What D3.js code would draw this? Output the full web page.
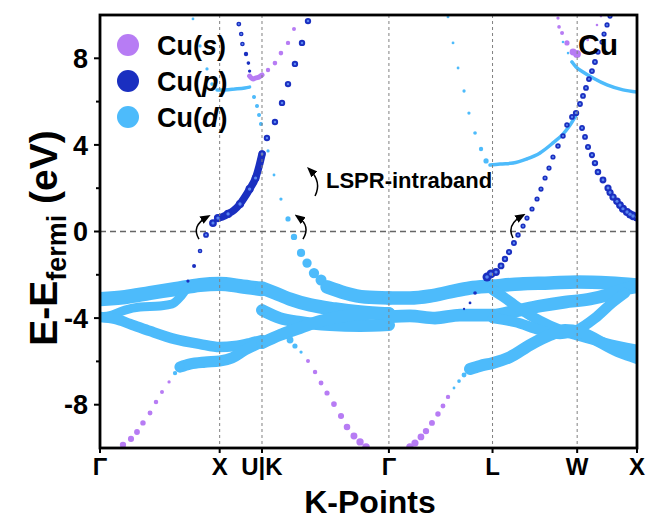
<!DOCTYPE html>
<html>
<head>
<meta charset="utf-8">
<title>Cu band structure</title>
<script src="https://cdnjs.cloudflare.com/ajax/libs/d3/7.8.5/d3.min.js"></script>
<style>
  body { margin: 0; background: #fff; }
  text { font-family: "Liberation Sans", Arial, sans-serif; font-weight: bold; fill: #000; }
</style>
</head>
<body>
<div id="chart"></div>
<script>
var W = 648, H = 520;
var plot = {left: 100, right: 637, top: 15, bottom: 448};

// high symmetry path (k in 2pi/a)
var kLabels = ["Γ", "X", "U|K", "Γ", "L", "W", "X"];
var kTicks = [0, 1.0, 1.3536, 2.4142, 3.2802, 3.9873, 4.4873];
var eTicks = [-8, -4, 0, 4, 8];
var eMinor = [-6, -2, 2, 6];

var orbColor = {s: "#b77cf4", p: "#1a2fc0", d: "#4dbbfb"};

// ---- d-dominated bands (fat ribbons), [k, E] ----
var dTop = [[0,-3.12],[0.209,-3.03],[0.418,-2.84],[0.627,-2.66],[0.836,-2.47],[1.0,-2.42],[1.17,-2.52],[1.354,-2.66]];
var dGX2 = [[0,-3.95],[0.100,-3.86],[0.209,-3.63],[0.334,-3.49],[0.501,-3.44],[0.602,-3.35],[0.669,-3.03],[0.719,-2.66]];
var dGX3 = [[0,-3.95],[0.125,-4.04],[0.251,-4.27],[0.418,-4.60],[0.627,-4.97],[0.836,-5.20],[1.0,-5.34],[1.128,-5.29],[1.253,-5.15],[1.354,-5.01]];
var dGX4 = [[0.669,-6.26],[0.752,-6.12],[0.877,-6.03],[1.0,-5.98],[1.103,-5.84],[1.212,-5.47],[1.354,-5.10]];
var dKG1 = [[1.354,-2.61],[1.462,-2.84],[1.588,-3.12],[1.755,-3.39],[1.964,-3.58],[2.173,-3.72],[2.415,-3.81]];
var dKG2 = [[1.354,-3.63],[1.504,-4.00],[1.671,-4.18],[1.922,-4.32],[2.173,-4.36],[2.415,-4.32]];
var dKG3 = [[1.354,-5.15],[1.504,-4.78],[1.671,-4.46],[1.838,-4.13],[2.047,-3.90],[2.415,-3.77]];
var dKG4 = [[1.897,-2.56],[2.047,-2.84],[2.214,-3.03],[2.415,-3.07]];
var dGLX1 = [[2.415,-3.07],[2.590,-3.07],[2.758,-2.98],[2.925,-2.79],[3.092,-2.61],[3.284,-2.52],[3.510,-2.42],[3.760,-2.38],[3.986,-2.33],[4.262,-2.38],[4.487,-2.47]];
var dGLX2 = [[2.415,-3.95],[2.590,-3.90],[2.799,-4.00],[3.008,-3.86],[3.284,-3.86],[3.468,-3.67],[3.677,-3.44],[3.886,-3.26],[4.095,-3.12],[4.262,-2.89],[4.387,-2.66],[4.487,-2.56]];
var dLX3 = [[3.284,-2.70],[3.384,-3.07],[3.510,-3.58],[3.677,-4.13],[3.844,-4.55],[4.011,-4.83],[4.220,-5.15],[4.487,-5.47]];
var dLX4 = [[3.284,-4.00],[3.468,-4.18],[3.677,-4.55],[3.844,-4.73],[3.986,-4.55],[4.136,-4.00],[4.278,-3.30],[4.387,-2.84]];
var dLX5 = [[3.092,-6.35],[3.175,-6.21],[3.284,-6.07],[3.426,-5.80],[3.593,-5.24],[3.760,-4.78],[3.886,-4.55],[4.011,-4.64],[4.178,-5.10],[4.345,-5.57],[4.487,-5.84]];
var dRibbons = [dTop, dGX2, dGX3, dGX4, dKG1, dKG2, dKG3, dKG4, dGLX1, dGLX2, dLX3, dLX4, dLX5];
var dRibbonWeight = [0.95, 0.6, 0.7, 0.75, 0.9, 0.8, 0.8, 0.9, 0.9, 0.85, 0.7, 0.7, 0.8];

// ---- thin continuous bands, [k, E] ----
var dLineXU = [[0.978,6.54],[1.045,6.54],[1.128,6.58],[1.21,6.63],[1.25,6.67]];
var dLineLW = [[3.259,3.07],[3.343,3.12],[3.451,3.16],[3.568,3.35],[3.677,3.63],[3.785,4.09],[3.869,4.50],[3.928,4.92],[3.978,5.38]];
var dLineWX = [[3.944,7.83],[3.978,7.60],[4.036,7.37],[4.120,7.09],[4.237,6.77],[4.370,6.54],[4.487,6.44]];
var sLineU = [[1.25,7.18],[1.28,7.04],[1.30,7.09],[1.33,7.14],[1.354,7.23]];
var pLineXU = [[0.986,0.62],[1.02,0.67],[1.07,0.81],[1.12,0.99],[1.17,1.27],[1.21,1.59],[1.25,1.96],[1.30,2.47],[1.33,3.03],[1.354,3.58]];

// ---- projected dots, [k, E, weight] ----
var sGX = [[0.192,-9.86,.30],[0.259,-9.58,.28],[0.309,-9.26,.25],[0.359,-8.84,.22],[0.418,-8.38,.18],[0.468,-7.87,.15],[0.518,-7.41,.12],[0.577,-6.95,.08]];
var sKup = [[1.404,7.46,.14],[1.462,7.78,.16],[1.512,8.24,.16],[1.571,8.71,.14],[1.621,9.35,.12]];
var sKG = [[1.738,-5.98,.12],[1.797,-6.49,.15],[1.847,-7.0,.18],[1.897,-7.46,.2],[1.955,-7.97,.24],[2.014,-8.52,.28],[2.064,-9.03,.32],[2.122,-9.45,.36],[2.173,-9.72,.4],[2.223,-9.95,.42]];
var sGL = [[2.590,-9.95,.4],[2.632,-9.77,.38],[2.682,-9.49,.34],[2.724,-9.22,.3],[2.774,-8.84,.26],[2.824,-8.43,.22],[2.866,-8.06,.18],[2.908,-7.64,.14]];
var sLW = [[3.451,3.16,.05],[3.568,3.35,.06],[3.677,3.63,.06]];
var sW = [[3.827,9.86,.08],[3.836,9.45,.1],[3.861,9.17,.12],[3.902,8.71,.2],[3.953,8.29,.35],[3.986,8.20,.45],[4.075,8.85,.06],[4.153,9.54,.05],[4.186,9.95,.05]];

var pGX = [[0.735,-2.29,.08],[0.786,-1.59,.12],[0.836,-0.90,.16],[0.886,-0.16,.25],[0.944,0.39,.45]];
var pXU = [[0.986,0.62,.5],[1.07,0.81,.5],[1.17,1.27,.5],[1.25,1.96,.5],[1.30,2.47,.45],[1.354,3.58,.35]];
var pU = [[1.16,9.58,.18],[1.18,9.12,.16],[1.19,8.66,.16],[1.22,8.20,.14],[1.24,7.78,.1],[1.25,7.41,.08]];
var pUK = [[1.287,6.21,.05],[1.312,5.80,.05],[1.329,5.38,.05],[1.345,4.97,.05]];
var pKup = [[1.395,4.32,.3],[1.462,5.06,.3],[1.521,5.94,.3],[1.571,6.81,.3],[1.629,7.74,.3],[1.688,8.71,.3],[1.738,9.72,.3]];
var pL = [[3.042,-3.58,.04],[3.092,-3.30,.06],[3.134,-2.84,.1],[3.234,-2.10,.6],[3.267,-1.96,.6],[3.309,-1.87,.45],[3.351,-1.59,.35],[3.384,-1.27,.3],[3.418,-0.95,.28],[3.459,-0.53,.26],[3.493,-0.16,.22],[3.535,0.25,.2],[3.568,0.62,.2],[3.610,1.04,.2],[3.652,1.50,.2],[3.685,1.96,.2],[3.719,2.47,.2],[3.752,2.93,.2],[3.785,3.44,.2],[3.827,3.95,.22],[3.869,4.41,.22],[3.902,4.92,.22],[3.944,5.29,.25],[3.978,5.47,.3],[4.011,5.89,.25],[4.036,6.26,.25],[4.061,6.63,.25],[4.086,7.04,.25],[4.111,7.41,.25],[4.136,7.83,.25],[4.161,8.29,.22],[4.195,8.75,.2],[4.212,9.12,.2],[4.237,9.54,.2],[4.262,9.95,.2]];
var pWX = [[4.028,4.78,.25],[4.053,4.37,.25],[4.078,3.90,.27],[4.111,3.53,.28],[4.136,3.16,.3],[4.161,2.75,.32],[4.203,2.38,.35],[4.245,2.01,.38],[4.262,1.80,.38],[4.287,1.59,.4],[4.32,1.40,.42],[4.345,1.22,.45],[4.370,1.05,.48],[4.404,0.90,.5],[4.429,0.80,.52],[4.454,0.72,.55],[4.487,0.67,.6]];

var dGXs = [[0.627,-6.54,.14],[0.677,-6.21,.3]];
var dXtop = [[0.777,9.82,.06],[0.836,8.57,.08],[0.894,7.51,.08],[0.936,6.81,.1]];
var dUK = [[1.287,6.21,.12],[1.312,5.80,.12],[1.329,5.38,.12],[1.345,4.97,.12]];
var dKdown = [[1.404,3.72,.08],[1.454,2.61,.06],[1.512,1.50,.08],[1.571,0.58,.2],[1.621,-0.25,.3],[1.68,-0.99,.5],[1.73,-1.46,.65],[1.788,-1.92,.8],[1.847,-2.24,.9],[1.897,-2.52,.9]];
var dKGs = [[1.588,-5.01,.35],[1.629,-5.29,.2],[1.680,-5.57,.08]];
var dGLs = [[2.958,-7.23,.06],[3.000,-6.91,.1],[3.042,-6.63,.18],[3.092,-6.40,.3]];
var dGL = [[2.908,9.91,.06],[2.950,8.71,.06],[2.992,7.55,.06],[3.042,6.49,.08],[3.083,5.47,.08],[3.134,4.55,.1],[3.184,3.81,.14],[3.226,3.26,.2]];
var dW = [[3.869,8.75,.05],[3.911,8.24,.05],[3.944,7.83,.06]];

var sSeries = [sGX, sKup, sKG, sGL, sLW, sW];
var pSeries = [pGX, pXU, pU, pUK, pKup, pL, pWX];
var dSeries = [dGXs, dXtop, dUK, dKdown, dKGs, dGLs, dGL, dW];

// curved arrows near E_F: [start, control, end] in [k, E]
var arrows = [
  [[0.827,-0.35],[0.760,0.25],[0.894,0.67]],
  [[1.696,-0.35],[1.763,0.25],[1.655,0.67]],
  [[1.797,1.64],[1.855,2.29],[1.755,2.84]],
  [[3.451,-0.30],[3.393,0.30],[3.526,0.72]]
];

var svg = d3.select("#chart").append("svg").attr("width", W).attr("height", H);

var x = d3.scaleLinear().domain([0, kTicks[kTicks.length - 1]]).range([plot.left, plot.right]);
var y = d3.scaleLinear().domain([-10, 10]).range([plot.bottom, plot.top]);
var r = d3.scaleSqrt().domain([0, 1]).range([0, 5.8]);
var ribbonW = d3.scaleLinear().domain([0, 1]).range([0, 15]);
var line = d3.line().x(function(d){ return x(d[0]); }).y(function(d){ return y(d[1]); }).curve(d3.curveMonotoneX);

svg.append("clipPath").attr("id", "clip").append("rect")
  .attr("x", plot.left).attr("y", plot.top)
  .attr("width", plot.right - plot.left).attr("height", plot.bottom - plot.top);

var g = svg.append("g").attr("clip-path", "url(#clip)");

// s layer
g.append("path").datum(sLineU).attr("d", line).attr("fill", "none")
  .attr("stroke", orbColor.s).attr("stroke-width", 5).attr("stroke-linecap", "round");
g.selectAll(".sdot").data(sSeries.flat()).join("circle").attr("class", "sdot")
  .attr("cx", function(d){ return x(d[0]); }).attr("cy", function(d){ return y(d[1]); })
  .attr("r", function(d){ return r(d[2]); }).attr("fill", orbColor.s);

// d ribbons
g.selectAll(".rib").data(dRibbons).join("path").attr("class", "rib")
  .attr("d", line).attr("fill", "none").attr("stroke", orbColor.d)
  .attr("stroke-width", function(d, i){ return ribbonW(dRibbonWeight[i]); })
  .attr("stroke-linecap", "round").attr("stroke-linejoin", "round");
g.selectAll(".dline").data([dLineXU, dLineLW, dLineWX]).join("path").attr("class", "dline")
  .attr("d", line).attr("fill", "none").attr("stroke", orbColor.d)
  .attr("stroke-width", 3.5).attr("stroke-linecap", "round");

// p layer
g.append("path").datum(pLineXU).attr("d", line).attr("fill", "none")
  .attr("stroke", orbColor.p).attr("stroke-width", 7.5).attr("stroke-linecap", "round");
var pPts = pSeries.flat();
g.selectAll(".pdot").data(pPts).join("circle").attr("class", "pdot")
  .attr("cx", function(d){ return x(d[0]); }).attr("cy", function(d){ return y(d[1]); })
  .attr("r", function(d){ return r(d[2]); }).attr("fill", orbColor.p);
g.selectAll(".pcore").data(pPts.filter(function(d){ return d[2] > 0.15; })).join("circle").attr("class", "pcore")
  .attr("cx", function(d){ return x(d[0]); }).attr("cy", function(d){ return y(d[1]); })
  .attr("r", function(d){ return r(d[2]) * 0.4; }).attr("fill", "#5b86ee");

// d dots on top
g.selectAll(".ddot").data(dSeries.flat()).join("circle").attr("class", "ddot")
  .attr("cx", function(d){ return x(d[0]); }).attr("cy", function(d){ return y(d[1]); })
  .attr("r", function(d){ return r(d[2]); }).attr("fill", orbColor.d);

// guides
svg.selectAll(".vgrid").data(kTicks.slice(1, -1)).join("line").attr("class", "vgrid")
  .attr("x1", function(d){ return x(d); }).attr("x2", function(d){ return x(d); })
  .attr("y1", plot.top).attr("y2", plot.bottom)
  .attr("stroke", "#808080").attr("stroke-width", 1).attr("stroke-dasharray", "3,3");
svg.append("line").attr("x1", plot.left).attr("x2", plot.right)
  .attr("y1", y(0)).attr("y2", y(0))
  .attr("stroke", "#666").attr("stroke-width", 1.5).attr("stroke-dasharray", "6,4");

// frame
svg.append("rect").attr("x", plot.left).attr("y", plot.top)
  .attr("width", plot.right - plot.left).attr("height", plot.bottom - plot.top)
  .attr("fill", "none").attr("stroke", "#000").attr("stroke-width", 2.8);

// y axis ticks
svg.selectAll(".ytick").data(eTicks).join("line").attr("class", "ytick")
  .attr("x1", plot.left - 6).attr("x2", plot.left)
  .attr("y1", function(d){ return y(d); }).attr("y2", function(d){ return y(d); })
  .attr("stroke", "#000").attr("stroke-width", 2);
svg.selectAll(".ymin").data(eMinor).join("line").attr("class", "ymin")
  .attr("x1", plot.left - 4).attr("x2", plot.left)
  .attr("y1", function(d){ return y(d); }).attr("y2", function(d){ return y(d); })
  .attr("stroke", "#000").attr("stroke-width", 2);
svg.selectAll(".ylab").data(eTicks).join("text").attr("class", "ylab")
  .attr("x", plot.left - 12).attr("y", function(d){ return y(d); })
  .attr("dy", "0.36em").attr("text-anchor", "end").attr("font-size", 27)
  .text(function(d){ return d; });

// x axis ticks
svg.selectAll(".xtick").data(kTicks).join("line").attr("class", "xtick")
  .attr("x1", function(d){ return x(d); }).attr("x2", function(d){ return x(d); })
  .attr("y1", plot.bottom).attr("y2", plot.bottom + 5)
  .attr("stroke", "#000").attr("stroke-width", 2);
svg.selectAll(".xlab").data(kTicks).join("text").attr("class", "xlab")
  .attr("x", function(d){ return x(d); }).attr("y", 475)
  .attr("text-anchor", "middle").attr("font-size", 24)
  .text(function(d, i){ return kLabels[i]; });

svg.append("text").attr("x", 370).attr("y", 513).attr("text-anchor", "middle")
  .attr("font-size", 32).text("K-Points");

var yl = svg.append("text").attr("transform", "translate(57,238) rotate(-90)")
  .attr("text-anchor", "middle").attr("font-size", 39);
yl.append("tspan").text("E-E");
yl.append("tspan").attr("font-size", 27).attr("dy", 9).text("fermi");
yl.append("tspan").attr("dy", -9).text(" (eV)");

// legend
var legend = [["s", "s"], ["p", "p"], ["d", "d"]];
var lg = svg.selectAll(".leg").data(legend).join("g").attr("class", "leg")
  .attr("transform", function(d, i){ return "translate(128," + (45 + i * 36) + ")"; });
lg.append("circle").attr("r", 11).attr("fill", function(d){ return orbColor[d[0]]; });
var lt = lg.append("text").attr("x", 29).attr("y", 10).attr("font-size", 27);
lt.append("tspan").text("Cu(");
lt.append("tspan").attr("font-style", "italic").text(function(d){ return d[1]; });
lt.append("tspan").text(")");

svg.append("text").attr("x", 578).attr("y", 55).attr("font-size", 30).text("Cu");
svg.append("text").attr("x", 326).attr("y", 188).attr("font-size", 22).text("LSPR-intraband");

// arrows
var defs = svg.append("defs");
defs.append("marker").attr("id", "head").attr("viewBox", "0 0 10 10")
  .attr("refX", 6).attr("refY", 5).attr("markerWidth", 7).attr("markerHeight", 7)
  .attr("orient", "auto").append("path").attr("d", "M0,1 L10,5 L0,9 z").attr("fill", "#000");
svg.selectAll(".arr").data(arrows).join("path").attr("class", "arr")
  .attr("d", function(a){
    return "M" + x(a[0][0]) + "," + y(a[0][1]) + " Q" + x(a[1][0]) + "," + y(a[1][1]) + " " + x(a[2][0]) + "," + y(a[2][1]);
  })
  .attr("fill", "none").attr("stroke", "#000").attr("stroke-width", 1.5)
  .attr("marker-end", "url(#head)");
</script>
</body>
</html>
